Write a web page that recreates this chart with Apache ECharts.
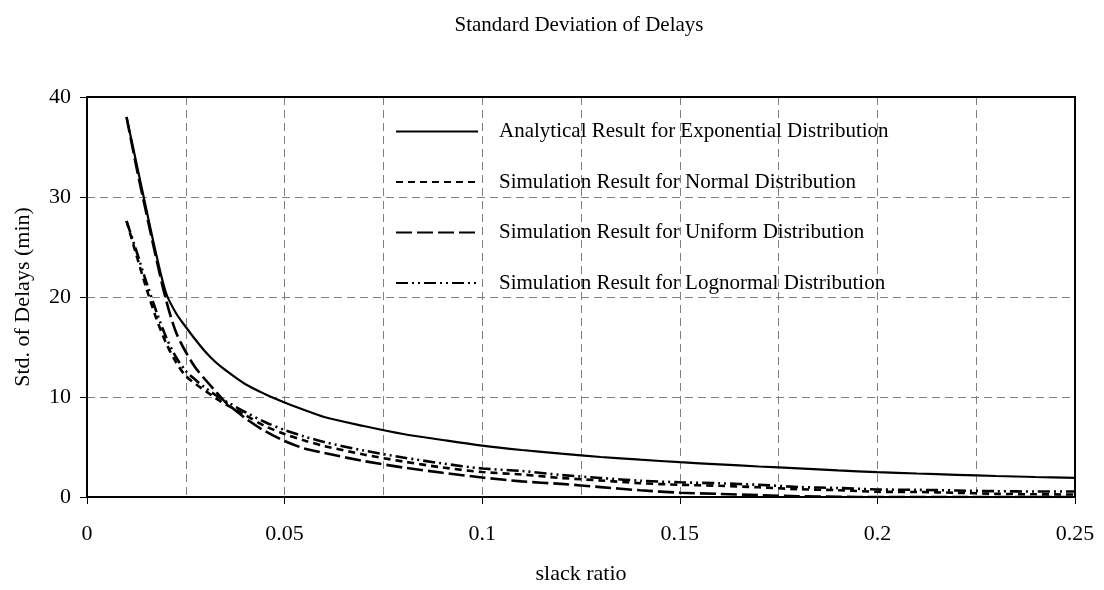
<!DOCTYPE html>
<html>
<head>
<meta charset="utf-8">
<script src="https://cdn.jsdelivr.net/npm/echarts@6/dist/echarts.min.js"></script>
<style>
html,body{margin:0;padding:0;background:#fff;}
#chart{width:1104px;height:590px;}
</style>
</head>
<body>
<div id="chart"></div>
<script>
const titleText = 'Standard Deviation of Delays';
const xAxisName = 'slack ratio';
const yAxisName = 'Std. of Delays (min)';
const xTickLabels = ['0', '0.05', '0.1', '0.15', '0.2', '0.25'];
const yTickLabels = ['0', '10', '20', '30', '40'];
const seriesNames = [
  'Analytical Result for Exponential Distribution',
  'Simulation Result for Normal Distribution',
  'Simulation Result for Uniform Distribution',
  'Simulation Result for Lognormal Distribution'
];
const slackRatio = [0.01,0.0125,0.015,0.0175,0.02,0.0225,0.025,0.0275,0.03,0.0325,0.035,0.04,0.045,0.05,0.055,0.06,0.07,0.08,0.09,0.1,0.11,0.12,0.13,0.14,0.15,0.16,0.17,0.18,0.19,0.2,0.21,0.22,0.23,0.24,0.25];
const analytical = [38.0,33.4,28.8,24.3,20.4,18.4,17.0,15.7,14.5,13.5,12.7,11.3,10.3,9.45,8.7,8.0,7.1,6.3,5.7,5.14,4.7,4.33,4.0,3.73,3.48,3.26,3.05,2.86,2.66,2.49,2.35,2.22,2.1,2.0,1.92];
const normalSim = [27.6,24.2,20.9,17.9,15.4,13.5,12.1,11.3,10.6,9.9,9.3,8.2,7.1,6.3,5.65,5.1,4.25,3.55,2.95,2.5,2.25,1.9,1.65,1.38,1.22,1.12,0.97,0.78,0.68,0.52,0.5,0.42,0.32,0.27,0.25];
const uniformSim = [38.0,33.0,28.4,23.9,19.7,16.5,14.5,12.9,11.7,10.6,9.5,7.9,6.6,5.6,4.85,4.4,3.6,2.95,2.42,1.95,1.56,1.31,0.99,0.67,0.43,0.31,0.18,0.08,0.02,0,0,0,0,0,0];
const lognormalSim = [27.6,24.6,21.5,18.6,16.0,14.0,12.6,11.7,10.9,10.2,9.6,8.5,7.5,6.7,6.05,5.5,4.65,3.95,3.35,2.85,2.6,2.2,1.9,1.63,1.47,1.37,1.22,1.0,0.9,0.75,0.72,0.65,0.58,0.55,0.55];

const FONT = "'Liberation Serif','Times New Roman',serif";
const pairs = ys => slackRatio.map((x, i) => [x, ys[i]]);
const gridDash = { color: '#808080', width: 1, type: [8, 5] };
const borderAxis = (min, max, position) => ({
  type: 'value', min, max, position, z: 10,
  axisLine: { show: true, onZero: false, lineStyle: { color: '#000', width: 2 } },
  axisTick: { show: false }, axisLabel: { show: false }, splitLine: { show: false }
});

const chart = echarts.init(document.getElementById('chart'));
chart.setOption({
  animation: false,
  backgroundColor: '#fff',
  color: ['#000', '#000', '#000', '#000'],
  title: {
    text: titleText, left: 574, top: 10, textAlign: 'center',
    textStyle: { fontFamily: FONT, fontSize: 21, fontWeight: 'normal', color: '#000' }
  },
  grid: { left: 87, right: 29, top: 97, bottom: 91, containLabel: false },
  legend: {
    orient: 'vertical', left: 390, top: 116, itemWidth: 82, itemHeight: 22, itemGap: 29.5,
    itemStyle: { opacity: 0 },
    textStyle: { fontFamily: FONT, fontSize: 21, color: '#000', padding: [0, 0, 0, 16] },
    data: seriesNames
  },
  xAxis: [{
    type: 'value', min: 0, max: 0.25, interval: 0.05, position: 'bottom', z: 2,
    name: xAxisName, nameLocation: 'middle', nameGap: 66,
    nameTextStyle: { fontFamily: FONT, fontSize: 22, color: '#000' },
    axisLine: { onZero: false, lineStyle: { color: '#000', width: 2 } },
    axisTick: { show: true, length: 7, lineStyle: { color: '#000', width: 1 } },
    axisLabel: { margin: 26, fontFamily: FONT, fontSize: 22, color: '#000',
      formatter: v => xTickLabels[Math.round(v / 0.05)] },
    splitLine: { show: true, lineStyle: gridDash },
    minorTick: { show: false, splitNumber: 2 },
    minorSplitLine: { show: true, lineStyle: gridDash }
  }, borderAxis(0, 0.25, 'top')],
  yAxis: [{
    type: 'value', min: 0, max: 40, interval: 10, position: 'left', z: 2,
    name: yAxisName, nameLocation: 'middle', nameGap: 53, nameRotate: 90,
    nameTextStyle: { fontFamily: FONT, fontSize: 22, color: '#000' },
    axisLine: { show: true, onZero: false, lineStyle: { color: '#000', width: 2 } },
    axisTick: { show: true, length: 7, lineStyle: { color: '#000', width: 1 } },
    axisLabel: { margin: 16, fontFamily: FONT, fontSize: 22, color: '#000',
      formatter: v => yTickLabels[Math.round(v / 10)] },
    splitLine: { show: true, lineStyle: gridDash }
  }, borderAxis(0, 40, 'right')],
  series: [
    { name: seriesNames[0], type: 'line', data: pairs(analytical), symbol: 'none', smooth: 0.3,
      itemStyle: { color: '#000' },
      lineStyle: { color: '#000', width: 2.2, type: 'solid' }, z: 5 },
    { name: seriesNames[1], type: 'line', data: pairs(normalSim), symbol: 'none', smooth: 0.3,
      itemStyle: { color: '#000' },
      lineStyle: { color: '#000', width: 2.6, type: [7, 5], cap: 'butt' }, z: 4 },
    { name: seriesNames[2], type: 'line', data: pairs(uniformSim), symbol: 'none', smooth: 0.3,
      itemStyle: { color: '#000' },
      lineStyle: { color: '#000', width: 2.6, type: [16, 5], cap: 'butt' }, z: 3 },
    { name: seriesNames[3], type: 'line', data: pairs(lognormalSim), symbol: 'none', smooth: 0.3,
      itemStyle: { color: '#000' },
      lineStyle: { color: '#000', width: 2.6, type: [12, 4, 2, 4, 2, 4], cap: 'butt' }, z: 4 }
  ]
});
</script>
</body>
</html>
